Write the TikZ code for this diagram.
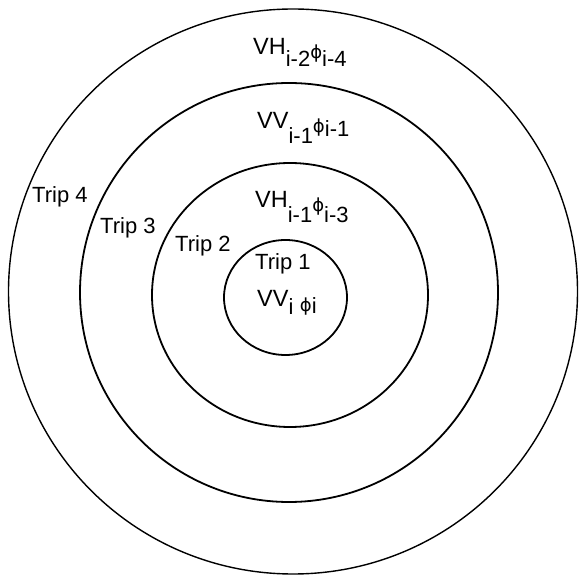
\documentclass[tikz,border=0pt]{standalone}
\usepackage{fontspec}
\setmainfont{Liberation Sans}
\newfontfamily\phifont{DejaVu Sans}
\newcommand{\dn}[2][12pt]{\raisebox{-#1}{\fontsize{22}{22}\selectfont #2}}
\newcommand{\ph}[1][4pt]{\raisebox{-#1}{\phifont\fontsize{18}{18}\selectfont ϕ}}

\begin{document}
\begin{tikzpicture}[x=1pt,y=1pt,
    ring/.style={line width=1.8pt},
    trip/.style={inner sep=0pt,anchor=base west,font=\fontsize{22}{22}\selectfont},
    term/.style={inner sep=0pt,anchor=base west,font=\fontsize{23.5}{24}\selectfont}]
            \useasboundingbox (0,0) rectangle (579,576);
            \draw[ring,line width=1.4pt] (293,284.5) ellipse [x radius=284.5, y radius=282.5];
            \draw[ring] (289,283.5) ellipse [x radius=209, y radius=209.5];
            \draw[ring] (290,281) ellipse [x radius=138, y radius=132];
            \draw[ring] (285.5,278.5) ellipse [x radius=61.5, y radius=57.5];
            \draw (32,373) node[trip] (T4) {Trip 4};
            \draw (100,342) node[trip] (T3) {Trip 3};
            \draw (175,324) node[trip] (T2) {Trip 2};
            \draw (255,306) node[trip] (T1) {Trip 1};
            \draw (253,521) node[term] (L4)
            {VH\dn{i-2}\ph\dn{i-4}};
            \draw (257,447) node[term] (L3)
            {VV\dn[15pt]{i-1}\ph\dn[8pt]{i-1}};
            \draw (255,368) node[term] (L2)
            {VH\dn[15pt]{i-1}\ph\dn[15pt]{i-3}};
            \draw (257,269) node[term] (L1)
            {VV\dn[8pt]{i} \ph[5pt]\dn[7pt]{i}};
\end{tikzpicture}
\end{document}
